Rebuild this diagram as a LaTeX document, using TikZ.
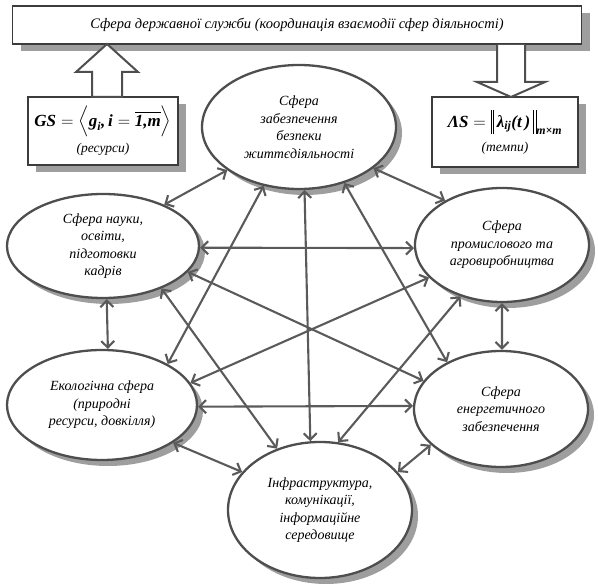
\documentclass[tikz,border=0pt]{standalone}
\usepackage{fontspec}
\setmainfont{Liberation Serif}
\usepackage{amsmath}
\usetikzlibrary{shapes.geometric,shadows,arrows.meta}
\definecolor{linegray}{HTML}{4E4E4E}
\definecolor{arrowgray}{HTML}{5A5A5A}
\definecolor{shadowgray}{HTML}{9E9E9E}
\definecolor{boxline}{HTML}{3C3C3C}
\newcommand{\bi}[1]{\text{\bfseries\itshape #1}}
\newcommand{\normbar}{\rule[-7pt]{0.6pt}{24pt}\hspace{2pt}\rule[-7pt]{0.6pt}{24pt}}
\begin{document}
\begin{tikzpicture}[x=1pt,y=-1pt,
  sphere/.style={ellipse, draw=linegray, line width=2.3pt, fill=white, inner sep=0pt,
    align=center, font=\fontsize{14}{17.5}\selectfont\itshape,
    drop shadow={shadow xshift=6pt,shadow yshift=-6pt,fill=shadowgray,opacity=1}},
  infobox/.style={rectangle, draw=boxline, line width=1.3pt, fill=white, inner sep=0pt, align=center,
    drop shadow={shadow xshift=8pt,shadow yshift=-7pt,fill=shadowgray,opacity=1}},
  link/.style={draw=arrowgray, line width=2.1pt,
    arrows={Straight Barb[length=6.5pt,width=13pt]-Straight Barb[length=6.5pt,width=13pt]}},
  hollow/.style={draw=linegray, line width=2pt, fill=white, line join=miter}
]
\useasboundingbox (0,0) rectangle (598,585);

% top box
\node[infobox, minimum width=569pt, minimum height=38pt, font=\fontsize{14.5}{17}\selectfont\itshape]
  (gov) at (297,25) {Сфера державної служби (координація взаємодії сфер діяльності)};

% resource and tempo boxes
\node[infobox, minimum width=150pt, minimum height=68pt] (gs) at (103,131)
  {{\fontsize{17}{20}\selectfont
    $\bi{GS} = \Big\langle \bi{g}_{\bi{i}}\bi{,}\,\bi{i} = \overline{\bi{1,m}}\Big\rangle$}\\[5pt]
   {\fontsize{13.5}{15}\selectfont\itshape (ресурси)}};
\node[infobox, minimum width=146pt, minimum height=70pt] (ls) at (505,132)
  {{\fontsize{17}{20}\selectfont
    $\bi{ΛS} = \normbar\,\bi{λ}_{\bi{ij}}\bi{(t\,)}\,\normbar_{\bi{m×m}}$}\\[6pt]
   {\fontsize{13.5}{15}\selectfont\itshape (темпи)}};

% hollow arrows
\path[hollow] (92,97) -- (92,72) -- (76,72) -- (107,44) -- (138,72) -- (122,72) -- (122,97) -- cycle;
\path[hollow] (497,45) -- (497,82) -- (477,82) -- (511,97) -- (545,82) -- (525,82) -- (525,45);

% spheres
\node[sphere, minimum width=194pt, minimum height=124pt] (T) at (299,127)
  {Сфера\\забезпечення\\безпеки\\життєдіяльності};
\node[sphere, minimum width=192pt, minimum height=104pt] (S) at (103,246)
  {Сфера науки,\\освіти,\\підготовки\\кадрів};
\node[sphere, minimum width=174pt, minimum height=114pt] (I) at (502,245)
  {Сфера\\промислового та\\агровиробництва};
\node[sphere, minimum width=190pt, minimum height=110pt] (E) at (102,405)
  {Екологічна сфера\\(природні\\ресурси, довкілля)};
\node[sphere, minimum width=174pt, minimum height=116pt] (N) at (501,409)
  {Сфера\\енергетичного\\забезпечення};
\node[sphere, minimum width=184pt, minimum height=136pt] (B) at (320,510)
  {Інфраструктура,\\комунікації,\\інформаційне\\середовище};

% links
\draw[link] (T.211.2) -- (S.34.8);
\draw[link] (T.-29.6) -- (I.142.8);
\draw[link] (S.-1.2) -- (I.182);
\draw[link] (S.274.4) -- (E.84.8);
\draw[link] (I.270) -- (N.89);
\draw[link] (E.-1.2) -- (N.178.7);
\draw[link] (E.-28) -- (B.154.5);
\draw[link] (N.207.8) -- (B.26.6);
\draw[link] (T.239.5) -- (E.32.9);
\draw[link] (T.-51.8) -- (N.139.6);
\draw[link] (T.275.4) -- (B.98.5);
\draw[link] (S.-36.3) -- (B.125.9);
\draw[link] (S.-17.9) -- (N.160);
\draw[link] (I.204) -- (E.14.6);
\draw[link] (I.231.3) -- (B.75);
\end{tikzpicture}
\end{document}
